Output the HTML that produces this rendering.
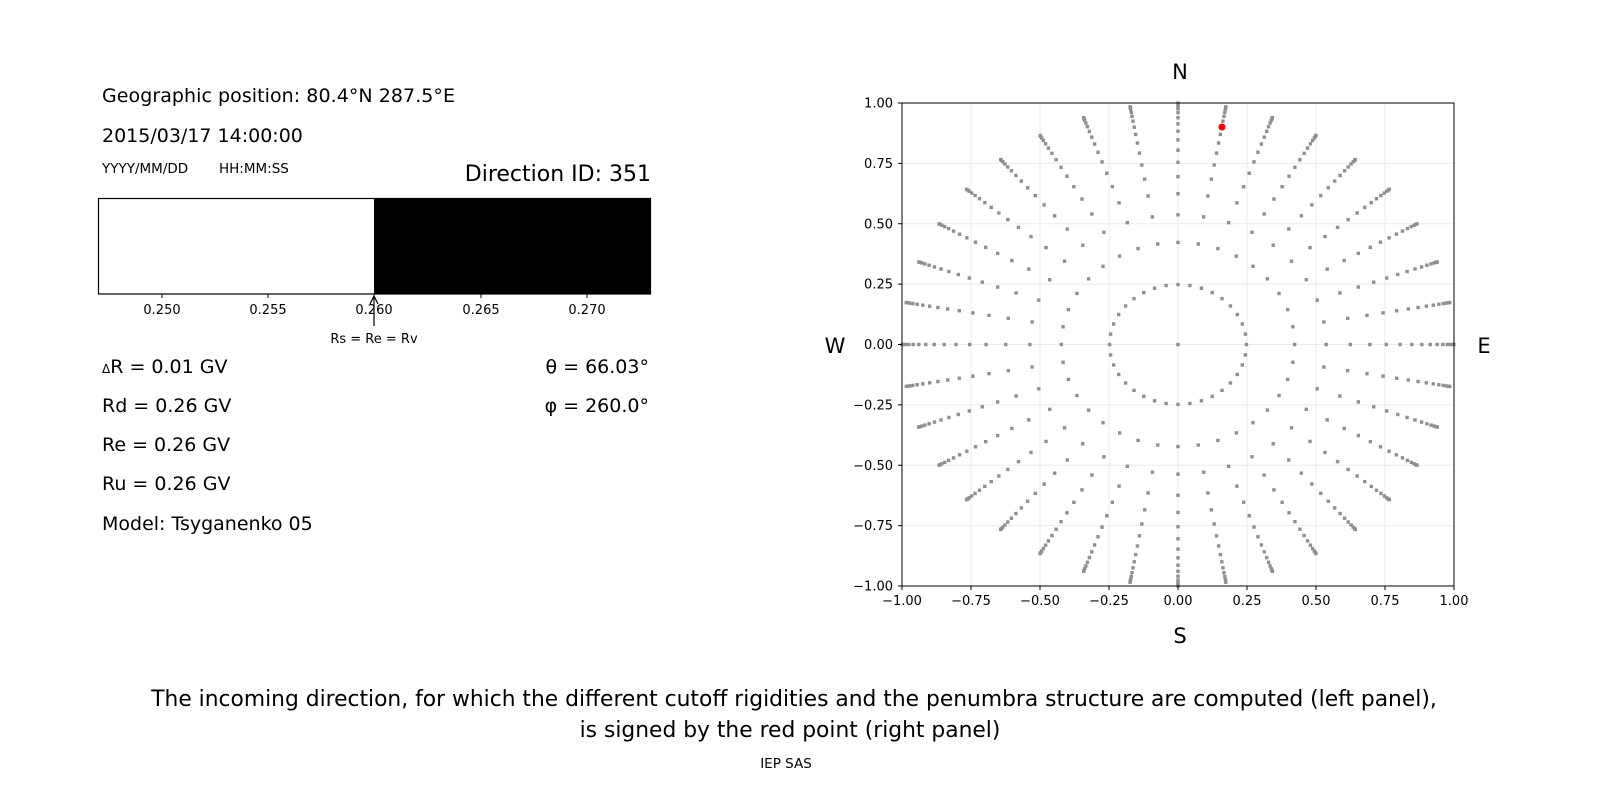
<!DOCTYPE html>
<html><head><meta charset="utf-8"><style>
html,body{margin:0;padding:0;background:#fff;width:1600px;height:800px;overflow:hidden;}
svg{display:block;font-family:"DejaVu Sans","Liberation Sans",sans-serif;}
</style></head><body>
<svg id="s" width="1600" height="800" viewBox="0 0 1600 800" xmlns="http://www.w3.org/2000/svg">
<rect width="1600" height="800" fill="#fff"/>
<text x="102" y="102" font-size="19" textLength="353">Geographic position: 80.4°N 287.5°E</text>
<text x="102" y="142" font-size="19">2015/03/17 14:00:00</text>
<text x="102" y="173" font-size="13.5">YYYY/MM/DD</text>
<text x="219" y="173" font-size="13.5">HH:MM:SS</text>
<text x="651" y="181" font-size="22" text-anchor="end">Direction ID: 351</text>
<rect x="374" y="198" width="277" height="96" fill="#000"/>
<rect x="98.5" y="198.5" width="552" height="95.5" fill="none" stroke="#000" stroke-width="1.2"/>
<g font-size="13" text-anchor="middle">
<line x1="162" y1="294" x2="162" y2="298" stroke="#000"/><text x="162" y="314">0.250</text>
<line x1="268" y1="294" x2="268" y2="298" stroke="#000"/><text x="268" y="314">0.255</text>
<line x1="374" y1="294" x2="374" y2="298" stroke="#000"/><text x="374" y="314">0.260</text>
<line x1="481" y1="294" x2="481" y2="298" stroke="#000"/><text x="481" y="314">0.265</text>
<line x1="587" y1="294" x2="587" y2="298" stroke="#000"/><text x="587" y="314">0.270</text>
<text x="374" y="343">Rs = Re = Rv</text>
</g>
<line x1="374" y1="297" x2="374" y2="326" stroke="#000" stroke-width="1.2"/>
<path d="M370,304 L374,296 L378,304" fill="none" stroke="#000" stroke-width="1.2"/>
<g font-size="19">
<text x="102" y="373"><tspan font-size="12">Δ</tspan>R = 0.01 GV</text>
<text x="102" y="412">Rd = 0.26 GV</text>
<text x="102" y="451">Re = 0.26 GV</text>
<text x="102" y="490">Ru = 0.26 GV</text>
<text x="102" y="530">Model: Tsyganenko 05</text>
<text x="649" y="373" text-anchor="end">θ = 66.03°</text>
<text x="649" y="412" text-anchor="end">φ = 260.0°</text>
</g>
<g id="grid" stroke="#ebebeb" stroke-width="1"></g>
<g id="pts" fill="#8f8f8f"></g>
<rect x="902" y="103" width="552" height="483" fill="none" stroke="#000" stroke-width="1"/>
<g id="ticks" font-size="13"></g>
<g font-size="21" text-anchor="middle">
<text x="1180" y="79">N</text>
<text x="1180" y="643">S</text>
<text x="835" y="353">W</text>
<text x="1484" y="353">E</text>
</g>
<circle cx="1222" cy="127" r="3.5" fill="#f00"/>
<g font-size="21.8" text-anchor="middle">
<text x="794" y="706">The incoming direction, for which the different cutoff rigidities and the penumbra structure are computed (left panel),</text>
<text x="790" y="737">is signed by the red point (right panel)</text>
</g>
<text x="786" y="768" font-size="13.5" text-anchor="middle">IEP SAS</text>
</svg>
<script>
var NS="http://www.w3.org/2000/svg";
function X(v){return 1178+v*276;} function Y(v){return 344.5-v*241.5;}
function el(p,t,a){var e=document.createElementNS(NS,t);for(var k in a)e.setAttribute(k,a[k]);p.appendChild(e);return e;}
var g=document.getElementById("grid"),tk=document.getElementById("ticks"),pts=document.getElementById("pts");
var vals=[-1,-0.75,-0.5,-0.25,0,0.25,0.5,0.75,1];
vals.forEach(function(v){
 el(g,"line",{x1:X(v),y1:103,x2:X(v),y2:586});
 el(g,"line",{x1:902,y1:Y(v),x2:1454,y2:Y(v)});
 el(tk,"line",{x1:X(v),y1:586,x2:X(v),y2:590,stroke:"#000"});
 el(tk,"line",{x1:898,y1:Y(v),x2:902,y2:Y(v),stroke:"#000"});
 var s=v.toFixed(2).replace("-","−");
 var t=el(tk,"text",{x:X(v),y:605,"text-anchor":"middle"});t.textContent=s;
 var t2=el(tk,"text",{x:893,y:Y(v)+4.5,"text-anchor":"end"});t2.textContent=s;
});
el(pts,"rect",{x:X(0)-1.7,y:Y(0)-1.7,width:3.4,height:3.4});
for(var k=0;k<16;k++){
 var c=1-(k+0.5)/16,r=Math.sqrt(1-c*c);
 for(var a=0;a<36;a++){
  var ang=a*10*Math.PI/180;
  var x=r*Math.sin(ang),y=r*Math.cos(ang);
  el(pts,"rect",{x:X(x)-1.7,y:Y(y)-1.7,width:3.4,height:3.4});
 }
}
</script>
</body></html>
